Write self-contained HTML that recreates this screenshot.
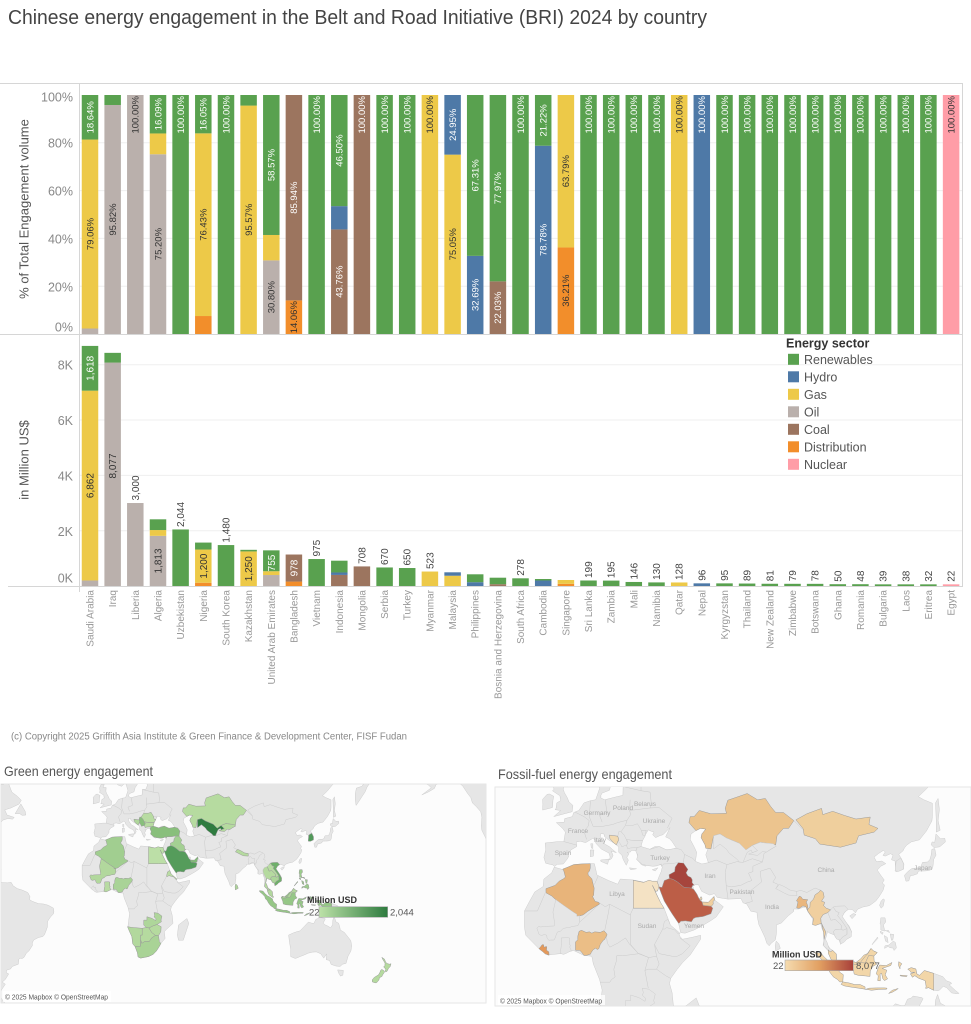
<!DOCTYPE html>
<html><head><meta charset="utf-8"><style>
html,body{margin:0;padding:0;background:#fff;width:971px;height:1024px;overflow:hidden}
svg{display:block;font-family:"Liberation Sans",sans-serif}
.R{fill:#59a14f}.H{fill:#4e79a7}.G{fill:#edc948}.O{fill:#bab0ac}.C{fill:#9c755f}.D{fill:#f28e2b}.N{fill:#ff9da7}
.p text{font-size:9.5px}
.w{fill:#fff}.k{fill:#333}.a{fill:#444}
.yl{font-size:12.5px;fill:#888;text-anchor:end}
.xl{font-size:10px;fill:#999;text-anchor:end}
.lg{font-size:12.5px;fill:#555}
.ml{font-size:6.5px;fill:#aaa;text-anchor:middle}
</style></head><body>
<svg width="971" height="1024" viewBox="0 0 971 1024" xmlns="http://www.w3.org/2000/svg" overflow="hidden">
<defs>
<clipPath id="cg"><rect x="1" y="784" width="485" height="219"/></clipPath>
<clipPath id="cf"><rect x="495" y="787" width="476" height="219"/></clipPath>
<linearGradient id="gg" x1="0" x2="1" y1="0" y2="0"><stop offset="0" stop-color="#bde2a8"/><stop offset="1" stop-color="#2e7b3f"/></linearGradient>
<linearGradient id="gf" x1="0" x2="1" y1="0" y2="0"><stop offset="0" stop-color="#f5dcb0"/><stop offset="0.5" stop-color="#e2a062"/><stop offset="1" stop-color="#a8403a"/></linearGradient>
</defs>
<rect width="971" height="1024" fill="#fff"/>
<text x="8" y="24" font-size="20" fill="#444" textLength="699" lengthAdjust="spacingAndGlyphs">Chinese energy engagement in the Belt and Road Initiative (BRI) 2024 by country</text>

<g stroke="#efefef" stroke-width="1">
<line x1="80" x2="962" y1="286.2" y2="286.2"/><line x1="80" x2="962" y1="238.4" y2="238.4"/><line x1="80" x2="962" y1="190.6" y2="190.6"/><line x1="80" x2="962" y1="142.8" y2="142.8"/>
<line x1="80" x2="962" y1="530.7" y2="530.7"/><line x1="80" x2="962" y1="475.4" y2="475.4"/><line x1="80" x2="962" y1="420" y2="420"/><line x1="80" x2="962" y1="364.7" y2="364.7"/>
</g>
<g stroke="#d6d6d6" stroke-width="1">
<line x1="0" x2="963" y1="83.5" y2="83.5"/>
<line x1="0" x2="963" y1="334.5" y2="334.5"/>
<line x1="8" x2="963" y1="586.5" y2="586.5"/>
<line x1="79.5" x2="79.5" y1="83" y2="592"/>
<line x1="962.5" x2="962.5" y1="83" y2="587"/>
</g>

<text class="yl" x="73" y="101.5">100%</text>
<text class="yl" x="73" y="147.5">80%</text>
<text class="yl" x="73" y="195.5">60%</text>
<text class="yl" x="73" y="243.5">40%</text>
<text class="yl" x="73" y="291.5">20%</text>
<text class="yl" x="73" y="331.5">0%</text>
<text class="yl" x="73" y="369.5">8K</text>
<text class="yl" x="73" y="425">6K</text>
<text class="yl" x="73" y="480.5">4K</text>
<text class="yl" x="73" y="536">2K</text>
<text class="yl" x="73" y="582.5">0K</text>
<text transform="translate(28.5,209) rotate(-90)" text-anchor="middle" font-size="13" fill="#555">% of Total Engagement volume</text>
<text transform="translate(28.5,460) rotate(-90)" text-anchor="middle" font-size="13" fill="#555">in Million US$</text>

<g transform="translate(0,334) scale(1,-2.39)">
<rect class="O" x="81.75" y="0" width="16.5" height="2.3"/><rect class="G" x="81.75" y="2.3" width="16.5" height="79.06"/><rect class="R" x="81.75" y="81.36" width="16.5" height="18.64"/>
<rect class="O" x="104.4" y="0" width="16.5" height="95.82"/><rect class="R" x="104.4" y="95.82" width="16.5" height="4.18"/>
<rect class="O" x="127.05" y="0" width="16.5" height="100"/>
<rect class="O" x="149.75" y="0" width="16.5" height="75.2"/><rect class="G" x="149.75" y="75.2" width="16.5" height="8.71"/><rect class="R" x="149.75" y="83.91" width="16.5" height="16.09"/>
<rect class="R" x="172.35" y="0" width="16.5" height="100"/>
<rect class="D" x="195.05" y="0" width="16.5" height="7.52"/><rect class="G" x="195.05" y="7.52" width="16.5" height="76.43"/><rect class="R" x="195.05" y="83.95" width="16.5" height="16.05"/>
<rect class="R" x="217.75" y="0" width="16.5" height="100"/>
<rect class="G" x="240.35" y="0" width="16.5" height="95.57"/><rect class="R" x="240.35" y="95.57" width="16.5" height="4.43"/>
<rect class="O" x="263.05" y="0" width="16.5" height="30.8"/><rect class="G" x="263.05" y="30.8" width="16.5" height="10.63"/><rect class="R" x="263.05" y="41.43" width="16.5" height="58.57"/>
<rect class="D" x="285.65" y="0" width="16.5" height="14.06"/><rect class="C" x="285.65" y="14.06" width="16.5" height="85.94"/>
<rect class="R" x="308.35" y="0" width="16.5" height="100"/>
<rect class="C" x="331.05" y="0" width="16.5" height="43.76"/><rect class="H" x="331.05" y="43.76" width="16.5" height="9.74"/><rect class="R" x="331.05" y="53.5" width="16.5" height="46.5"/>
<rect class="C" x="353.65" y="0" width="16.5" height="100"/>
<rect class="R" x="376.35" y="0" width="16.5" height="100"/>
<rect class="R" x="398.95" y="0" width="16.5" height="100"/>
<rect class="G" x="421.65" y="0" width="16.5" height="100"/>
<rect class="G" x="444.35" y="0" width="16.5" height="75.05"/><rect class="H" x="444.35" y="75.05" width="16.5" height="24.95"/>
<rect class="H" x="466.95" y="0" width="16.5" height="32.69"/><rect class="R" x="466.95" y="32.69" width="16.5" height="67.31"/>
<rect class="C" x="489.65" y="0" width="16.5" height="22.03"/><rect class="R" x="489.65" y="22.03" width="16.5" height="77.97"/>
<rect class="R" x="512.25" y="0" width="16.5" height="100"/>
<rect class="H" x="534.95" y="0" width="16.5" height="78.78"/><rect class="R" x="534.95" y="78.78" width="16.5" height="21.22"/>
<rect class="D" x="557.65" y="0" width="16.5" height="36.21"/><rect class="G" x="557.65" y="36.21" width="16.5" height="63.79"/>
<rect class="R" x="580.25" y="0" width="16.5" height="100"/>
<rect class="R" x="602.95" y="0" width="16.5" height="100"/>
<rect class="R" x="625.55" y="0" width="16.5" height="100"/>
<rect class="R" x="648.25" y="0" width="16.5" height="100"/>
<rect class="G" x="670.95" y="0" width="16.5" height="100"/>
<rect class="H" x="693.55" y="0" width="16.5" height="100"/>
<rect class="R" x="716.25" y="0" width="16.5" height="100"/>
<rect class="R" x="738.85" y="0" width="16.5" height="100"/>
<rect class="R" x="761.55" y="0" width="16.5" height="100"/>
<rect class="R" x="784.25" y="0" width="16.5" height="100"/>
<rect class="R" x="806.85" y="0" width="16.5" height="100"/>
<rect class="R" x="829.55" y="0" width="16.5" height="100"/>
<rect class="R" x="852.15" y="0" width="16.5" height="100"/>
<rect class="R" x="874.85" y="0" width="16.5" height="100"/>
<rect class="R" x="897.55" y="0" width="16.5" height="100"/>
<rect class="R" x="920.15" y="0" width="16.5" height="100"/>
<rect class="N" x="942.85" y="0" width="16.5" height="100"/>
</g>

<g class="p" text-anchor="middle">
<text class="w" transform="translate(90,117.3) rotate(-90)" dy=".35em">18.64%</text>
<text class="k" transform="translate(90,234) rotate(-90)" dy=".35em">79.06%</text>
<text class="k" transform="translate(112.7,219.5) rotate(-90)" dy=".35em">95.82%</text>
<text class="w" transform="translate(158,114.2) rotate(-90)" dy=".35em">16.09%</text>
<text class="k" transform="translate(158,244.1) rotate(-90)" dy=".35em">75.20%</text>
<text class="w" transform="translate(203.3,114.2) rotate(-90)" dy=".35em">16.05%</text>
<text class="k" transform="translate(203.3,224.7) rotate(-90)" dy=".35em">76.43%</text>
<text class="k" transform="translate(248.6,219.8) rotate(-90)" dy=".35em">95.57%</text>
<text class="w" transform="translate(271.3,165) rotate(-90)" dy=".35em">58.57%</text>
<text class="k" transform="translate(271.3,297.2) rotate(-90)" dy=".35em">30.80%</text>
<text class="w" transform="translate(293.9,197.7) rotate(-90)" dy=".35em">85.94%</text>
<text class="k" transform="translate(293.9,317.2) rotate(-90)" dy=".35em">14.06%</text>
<text class="w" transform="translate(339.3,150.6) rotate(-90)" dy=".35em">46.50%</text>
<text class="w" transform="translate(339.3,281.7) rotate(-90)" dy=".35em">43.76%</text>
<text class="w" transform="translate(452.6,124.8) rotate(-90)" dy=".35em">24.95%</text>
<text class="k" transform="translate(452.6,244.3) rotate(-90)" dy=".35em">75.05%</text>
<text class="w" transform="translate(475.2,175.4) rotate(-90)" dy=".35em">67.31%</text>
<text class="w" transform="translate(475.2,294.9) rotate(-90)" dy=".35em">32.69%</text>
<text class="w" transform="translate(497.9,188.2) rotate(-90)" dy=".35em">77.97%</text>
<text class="w" transform="translate(497.9,307.7) rotate(-90)" dy=".35em">22.03%</text>
<text class="w" transform="translate(543.2,120.4) rotate(-90)" dy=".35em">21.22%</text>
<text class="w" transform="translate(543.2,239.9) rotate(-90)" dy=".35em">78.78%</text>
<text class="k" transform="translate(565.9,171.2) rotate(-90)" dy=".35em">63.79%</text>
<text class="k" transform="translate(565.9,290.7) rotate(-90)" dy=".35em">36.21%</text>
</g>
<g class="p" text-anchor="end">
<text class="k" transform="translate(135.3,96) rotate(-90)" dy=".35em">100.00%</text>
<text class="w" transform="translate(180.6,96) rotate(-90)" dy=".35em">100.00%</text>
<text class="w" transform="translate(226,96) rotate(-90)" dy=".35em">100.00%</text>
<text class="w" transform="translate(316.6,96) rotate(-90)" dy=".35em">100.00%</text>
<text class="w" transform="translate(361.9,96) rotate(-90)" dy=".35em">100.00%</text>
<text class="w" transform="translate(384.6,96) rotate(-90)" dy=".35em">100.00%</text>
<text class="w" transform="translate(407.2,96) rotate(-90)" dy=".35em">100.00%</text>
<text class="k" transform="translate(429.9,96) rotate(-90)" dy=".35em">100.00%</text>
<text class="w" transform="translate(520.5,96) rotate(-90)" dy=".35em">100.00%</text>
<text class="w" transform="translate(588.5,96) rotate(-90)" dy=".35em">100.00%</text>
<text class="w" transform="translate(611.2,96) rotate(-90)" dy=".35em">100.00%</text>
<text class="w" transform="translate(633.8,96) rotate(-90)" dy=".35em">100.00%</text>
<text class="w" transform="translate(656.5,96) rotate(-90)" dy=".35em">100.00%</text>
<text class="k" transform="translate(679.2,96) rotate(-90)" dy=".35em">100.00%</text>
<text class="w" transform="translate(701.8,96) rotate(-90)" dy=".35em">100.00%</text>
<text class="w" transform="translate(724.5,96) rotate(-90)" dy=".35em">100.00%</text>
<text class="w" transform="translate(747.1,96) rotate(-90)" dy=".35em">100.00%</text>
<text class="w" transform="translate(769.8,96) rotate(-90)" dy=".35em">100.00%</text>
<text class="w" transform="translate(792.5,96) rotate(-90)" dy=".35em">100.00%</text>
<text class="w" transform="translate(815.1,96) rotate(-90)" dy=".35em">100.00%</text>
<text class="w" transform="translate(837.8,96) rotate(-90)" dy=".35em">100.00%</text>
<text class="w" transform="translate(860.4,96) rotate(-90)" dy=".35em">100.00%</text>
<text class="w" transform="translate(883.1,96) rotate(-90)" dy=".35em">100.00%</text>
<text class="w" transform="translate(905.8,96) rotate(-90)" dy=".35em">100.00%</text>
<text class="w" transform="translate(928.4,96) rotate(-90)" dy=".35em">100.00%</text>
<text class="k" transform="translate(951.1,96) rotate(-90)" dy=".35em">100.00%</text>
</g>

<g transform="translate(0,586) scale(1,-0.02766)">
<rect class="O" x="81.75" y="0" width="16.5" height="200"/><rect class="G" x="81.75" y="200" width="16.5" height="6862"/><rect class="R" x="81.75" y="7062" width="16.5" height="1618"/>
<rect class="O" x="104.4" y="0" width="16.5" height="8077"/><rect class="R" x="104.4" y="8077" width="16.5" height="352"/>
<rect class="O" x="127.05" y="0" width="16.5" height="3000"/>
<rect class="O" x="149.75" y="0" width="16.5" height="1813"/><rect class="G" x="149.75" y="1813" width="16.5" height="210"/><rect class="R" x="149.75" y="2023" width="16.5" height="388"/>
<rect class="R" x="172.35" y="0" width="16.5" height="2044"/>
<rect class="D" x="195.05" y="0" width="16.5" height="118"/><rect class="G" x="195.05" y="118" width="16.5" height="1200"/><rect class="R" x="195.05" y="1318" width="16.5" height="252"/>
<rect class="R" x="217.75" y="0" width="16.5" height="1480"/>
<rect class="G" x="240.35" y="0" width="16.5" height="1250"/><rect class="R" x="240.35" y="1250" width="16.5" height="58"/>
<rect class="O" x="263.05" y="0" width="16.5" height="397"/><rect class="G" x="263.05" y="397" width="16.5" height="137"/><rect class="R" x="263.05" y="534" width="16.5" height="755"/>
<rect class="D" x="285.65" y="0" width="16.5" height="160"/><rect class="C" x="285.65" y="160" width="16.5" height="978"/>
<rect class="R" x="308.35" y="0" width="16.5" height="975"/>
<rect class="C" x="331.05" y="0" width="16.5" height="400"/><rect class="H" x="331.05" y="400" width="16.5" height="89"/><rect class="R" x="331.05" y="489" width="16.5" height="426"/>
<rect class="C" x="353.65" y="0" width="16.5" height="708"/>
<rect class="R" x="376.35" y="0" width="16.5" height="670"/>
<rect class="R" x="398.95" y="0" width="16.5" height="650"/>
<rect class="G" x="421.65" y="0" width="16.5" height="523"/>
<rect class="G" x="444.35" y="0" width="16.5" height="371"/><rect class="H" x="444.35" y="371" width="16.5" height="124"/>
<rect class="H" x="466.95" y="0" width="16.5" height="138"/><rect class="R" x="466.95" y="138" width="16.5" height="285"/>
<rect class="C" x="489.65" y="0" width="16.5" height="66"/><rect class="R" x="489.65" y="66" width="16.5" height="234"/>
<rect class="R" x="512.25" y="0" width="16.5" height="278"/>
<rect class="H" x="534.95" y="0" width="16.5" height="199"/><rect class="R" x="534.95" y="199" width="16.5" height="54"/>
<rect class="D" x="557.65" y="0" width="16.5" height="79"/><rect class="G" x="557.65" y="79" width="16.5" height="138"/>
<rect class="R" x="580.25" y="0" width="16.5" height="199"/>
<rect class="R" x="602.95" y="0" width="16.5" height="195"/>
<rect class="R" x="625.55" y="0" width="16.5" height="146"/>
<rect class="R" x="648.25" y="0" width="16.5" height="130"/>
<rect class="G" x="670.95" y="0" width="16.5" height="128"/>
<rect class="H" x="693.55" y="0" width="16.5" height="96"/>
<rect class="R" x="716.25" y="0" width="16.5" height="95"/>
<rect class="R" x="738.85" y="0" width="16.5" height="89"/>
<rect class="R" x="761.55" y="0" width="16.5" height="81"/>
<rect class="R" x="784.25" y="0" width="16.5" height="79"/>
<rect class="R" x="806.85" y="0" width="16.5" height="78"/>
<rect class="R" x="829.55" y="0" width="16.5" height="65"/>
<rect class="R" x="852.15" y="0" width="16.5" height="65"/>
<rect class="R" x="874.85" y="0" width="16.5" height="60"/>
<rect class="R" x="897.55" y="0" width="16.5" height="60"/>
<rect class="R" x="920.15" y="0" width="16.5" height="60"/>
<rect class="N" x="942.85" y="0" width="16.5" height="60"/>
</g>

<g style="font-size:10px" text-anchor="middle">
<text class="w" transform="translate(90,368.3) rotate(-90)" dy=".35em">1,618</text>
<text class="k" transform="translate(90,485.6) rotate(-90)" dy=".35em">6,862</text>
<text class="k" transform="translate(112.7,466) rotate(-90)" dy=".35em">8,077</text>
<text class="k" transform="translate(158,561) rotate(-90)" dy=".35em">1,813</text>
<text class="k" transform="translate(203.3,566.1) rotate(-90)" dy=".35em">1,200</text>
<text class="k" transform="translate(248.6,568.7) rotate(-90)" dy=".35em">1,250</text>
<text class="w" transform="translate(271.3,563) rotate(-90)" dy=".35em">755</text>
<text class="w" transform="translate(293.9,568) rotate(-90)" dy=".35em">978</text>
</g>
<g style="font-size:10px" text-anchor="start" class="a">
<text transform="translate(135.3,500.5) rotate(-90)" dy=".35em">3,000</text>
<text transform="translate(180.6,527) rotate(-90)" dy=".35em">2,044</text>
<text transform="translate(226,542.6) rotate(-90)" dy=".35em">1,480</text>
<text transform="translate(316.6,556.5) rotate(-90)" dy=".35em">975</text>
<text transform="translate(361.9,563.9) rotate(-90)" dy=".35em">708</text>
<text transform="translate(384.6,565) rotate(-90)" dy=".35em">670</text>
<text transform="translate(407.2,565.5) rotate(-90)" dy=".35em">650</text>
<text transform="translate(429.9,569) rotate(-90)" dy=".35em">523</text>
<text transform="translate(520.5,575.8) rotate(-90)" dy=".35em">278</text>
<text transform="translate(588.5,578) rotate(-90)" dy=".35em">199</text>
<text transform="translate(611.2,578.1) rotate(-90)" dy=".35em">195</text>
<text transform="translate(633.8,579.5) rotate(-90)" dy=".35em">146</text>
<text transform="translate(656.5,579.9) rotate(-90)" dy=".35em">130</text>
<text transform="translate(679.2,580) rotate(-90)" dy=".35em">128</text>
<text transform="translate(701.8,580.8) rotate(-90)" dy=".35em">96</text>
<text transform="translate(724.5,580.9) rotate(-90)" dy=".35em">95</text>
<text transform="translate(747.1,581) rotate(-90)" dy=".35em">89</text>
<text transform="translate(769.8,581.3) rotate(-90)" dy=".35em">81</text>
<text transform="translate(792.5,581.3) rotate(-90)" dy=".35em">79</text>
<text transform="translate(815.1,581.3) rotate(-90)" dy=".35em">78</text>
<text transform="translate(837.8,581.7) rotate(-90)" dy=".35em">50</text>
<text transform="translate(860.4,581.7) rotate(-90)" dy=".35em">48</text>
<text transform="translate(883.1,581.8) rotate(-90)" dy=".35em">39</text>
<text transform="translate(905.8,581.8) rotate(-90)" dy=".35em">38</text>
<text transform="translate(928.4,581.8) rotate(-90)" dy=".35em">32</text>
<text transform="translate(951.1,581.8) rotate(-90)" dy=".35em">22</text>
</g>

<g class="xl">
<text transform="translate(90,590) rotate(-90)" dy=".35em">Saudi Arabia</text>
<text transform="translate(112.7,590) rotate(-90)" dy=".35em">Iraq</text>
<text transform="translate(135.3,590) rotate(-90)" dy=".35em">Liberia</text>
<text transform="translate(158,590) rotate(-90)" dy=".35em">Algeria</text>
<text transform="translate(180.6,590) rotate(-90)" dy=".35em">Uzbekistan</text>
<text transform="translate(203.3,590) rotate(-90)" dy=".35em">Nigeria</text>
<text transform="translate(226,590) rotate(-90)" dy=".35em">South Korea</text>
<text transform="translate(248.6,590) rotate(-90)" dy=".35em">Kazakhstan</text>
<text transform="translate(271.3,590) rotate(-90)" dy=".35em">United Arab Emirates</text>
<text transform="translate(293.9,590) rotate(-90)" dy=".35em">Bangladesh</text>
<text transform="translate(316.6,590) rotate(-90)" dy=".35em">Vietnam</text>
<text transform="translate(339.3,590) rotate(-90)" dy=".35em">Indonesia</text>
<text transform="translate(361.9,590) rotate(-90)" dy=".35em">Mongolia</text>
<text transform="translate(384.6,590) rotate(-90)" dy=".35em">Serbia</text>
<text transform="translate(407.2,590) rotate(-90)" dy=".35em">Turkey</text>
<text transform="translate(429.9,590) rotate(-90)" dy=".35em">Myanmar</text>
<text transform="translate(452.6,590) rotate(-90)" dy=".35em">Malaysia</text>
<text transform="translate(475.2,590) rotate(-90)" dy=".35em">Philippines</text>
<text transform="translate(497.9,590) rotate(-90)" dy=".35em">Bosnia and Herzegovina</text>
<text transform="translate(520.5,590) rotate(-90)" dy=".35em">South Africa</text>
<text transform="translate(543.2,590) rotate(-90)" dy=".35em">Cambodia</text>
<text transform="translate(565.9,590) rotate(-90)" dy=".35em">Singapore</text>
<text transform="translate(588.5,590) rotate(-90)" dy=".35em">Sri Lanka</text>
<text transform="translate(611.2,590) rotate(-90)" dy=".35em">Zambia</text>
<text transform="translate(633.8,590) rotate(-90)" dy=".35em">Mali</text>
<text transform="translate(656.5,590) rotate(-90)" dy=".35em">Namibia</text>
<text transform="translate(679.2,590) rotate(-90)" dy=".35em">Qatar</text>
<text transform="translate(701.8,590) rotate(-90)" dy=".35em">Nepal</text>
<text transform="translate(724.5,590) rotate(-90)" dy=".35em">Kyrgyzstan</text>
<text transform="translate(747.1,590) rotate(-90)" dy=".35em">Thailand</text>
<text transform="translate(769.8,590) rotate(-90)" dy=".35em">New Zealand</text>
<text transform="translate(792.5,590) rotate(-90)" dy=".35em">Zimbabwe</text>
<text transform="translate(815.1,590) rotate(-90)" dy=".35em">Botswana</text>
<text transform="translate(837.8,590) rotate(-90)" dy=".35em">Ghana</text>
<text transform="translate(860.4,590) rotate(-90)" dy=".35em">Romania</text>
<text transform="translate(883.1,590) rotate(-90)" dy=".35em">Bulgaria</text>
<text transform="translate(905.8,590) rotate(-90)" dy=".35em">Laos</text>
<text transform="translate(928.4,590) rotate(-90)" dy=".35em">Eritrea</text>
<text transform="translate(951.1,590) rotate(-90)" dy=".35em">Egypt</text>
</g>

<text x="786" y="347.5" font-size="12.5" font-weight="bold" fill="#333">Energy sector</text>
<rect class="R" x="788" y="353.8" width="11" height="11"/><text class="lg" x="804" y="363.8">Renewables</text>
<rect class="H" x="788" y="371.3" width="11" height="11"/><text class="lg" x="804" y="381.3">Hydro</text>
<rect class="G" x="788" y="388.8" width="11" height="11"/><text class="lg" x="804" y="398.8">Gas</text>
<rect class="O" x="788" y="406.3" width="11" height="11"/><text class="lg" x="804" y="416.3">Oil</text>
<rect class="C" x="788" y="423.8" width="11" height="11"/><text class="lg" x="804" y="433.8">Coal</text>
<rect class="D" x="788" y="441.3" width="11" height="11"/><text class="lg" x="804" y="451.3">Distribution</text>
<rect class="N" x="788" y="458.8" width="11" height="11"/><text class="lg" x="804" y="468.8">Nuclear</text>

<text x="11" y="739.5" font-size="10" fill="#888" textLength="396" lengthAdjust="spacingAndGlyphs">(c) Copyright 2025 Griffith Asia Institute &amp; Green Finance &amp; Development Center, FISF Fudan</text>

<text x="4" y="776" font-size="14" fill="#555" textLength="149" lengthAdjust="spacingAndGlyphs">Green energy engagement</text>
<text x="498" y="779" font-size="14" fill="#555" textLength="174" lengthAdjust="spacingAndGlyphs">Fossil-fuel energy engagement</text>

<rect x="1" y="784" width="485" height="219" fill="#fcfcfc" stroke="#e6e6e6"/>
<rect x="495" y="787" width="476" height="219" fill="#fcfcfc" stroke="#e6e6e6"/>
<g clip-path="url(#cg)"><g id="mg" transform="translate(109,899.4) scale(1.58)"></g></g>
<g clip-path="url(#cf)"><g id="mf" transform="translate(568.5,966.6) scale(2.59)"></g></g>

<g class="ml">
<text x="563" y="855">Spain</text><text x="578" y="833">France</text><text x="597" y="815">Germany</text>
<text x="623" y="810">Poland</text><text x="645" y="806">Belarus</text><text x="654" y="823">Ukraine</text>
<text x="600" y="842">Italy</text><text x="660" y="860">Turkey</text><text x="710" y="878">Iran</text>
<text x="617" y="896">Libya</text><text x="647" y="928">Sudan</text><text x="694" y="928">Yemen</text>
<text x="742" y="894">Pakistan</text><text x="772" y="909">India</text><text x="826" y="872">China</text>
<text x="923" y="870">Japan</text>
</g>

<text x="307" y="903" font-size="9" font-weight="bold" fill="#333">Million USD</text>
<text x="309" y="915.5" font-size="9.5" fill="#555">22</text>
<rect x="319" y="906.7" width="68.7" height="10.6" fill="url(#gg)" stroke="#aaa" stroke-width="0.6"/>
<text x="390" y="915.5" font-size="9.5" fill="#555">2,044</text>
<text x="772" y="957.5" font-size="9" font-weight="bold" fill="#333">Million USD</text>
<text x="773" y="969" font-size="9.5" fill="#555">22</text>
<rect x="785" y="960" width="68.3" height="10.7" fill="url(#gf)" stroke="#aaa" stroke-width="0.6"/>
<text x="856" y="969" font-size="9.5" fill="#555">8,077</text>

<rect x="3" y="991" width="108" height="11" fill="#fff" opacity="0.8"/>
<text x="5" y="999.5" font-size="7.5" fill="#555" textLength="103" lengthAdjust="spacingAndGlyphs">© 2025 Mapbox © OpenStreetMap</text>
<rect x="498" y="995" width="107" height="10" fill="#fff" opacity="0.8"/>
<text x="500" y="1003.5" font-size="7.5" fill="#555" textLength="102" lengthAdjust="spacingAndGlyphs">© 2025 Mapbox © OpenStreetMap</text>
</svg>

<script>
(function(){
var NS='http://www.w3.org/2000/svg';
function M(l){return Math.log(Math.tan(Math.PI/4+l*Math.PI/360))*180/Math.PI;}
var B;
function cl(v,a,b){return v<a?a:(v>b?b:v);}
function P(a,s,open){s=s||0;var d='';for(var i=0;i<a.length;i+=2){var lo=cl(a[i]+s,B[0],B[1]),la=cl(a[i+1],B[2],B[3]);d+=(i?'L':'M')+lo.toFixed(2)+','+(-M(la)).toFixed(2);}return open?d:d+'Z';}
var LAND='#e6e6e6',SEA='#fcfcfc';
var F=[
{c:[-17,21,-17,15,-16.5,12,-13,8.5,-11,6.5,-8,4.5,-3,5,2,6.2,6,4.3,9,4,9.6,1,12,-5,13,-9,12,-17,14.5,-23,15,-27,16.5,-28.6,18,-32,18.4,-34.2,20,-34.8,25,-34,28,-32.8,30,-31,31.5,-29,32.9,-26.8,35.5,-24,35,-20,36.5,-18.5,40.5,-15,40,-10,39,-6.5,39.5,-4.5,42,-1,44,1.5,47,4.5,49,7.5,51,10.5,51,12,48,11.3,44,10.5,43,11.6,42.5,13,41,14.5,39.5,15.5,38.5,18,37.3,21,36.9,22,35.7,23.5,34,27,32.5,30,32.3,31.3,30,31,29,31,25,31.7,20,32,19,30.3,15.5,31.5,11,33.3,10,36.9,8.5,36.9,5,36.8,2,36.6,-1,35.5,-2,35,-5.5,35.8,-6.5,34,-9.5,32,-9.8,29.5,-13,27.7,-15,24.5]},
{c:[44,-25,47,-25,50.5,-15,49.3,-12,44,-16,43.3,-22]},
{c:[32.5,30,34.9,29.5,35.7,27.5,37,24.5,39,21.5,40,20,42.5,16.5,43.3,13,45,12.8,48.5,14,52,15.8,55,17.5,57,18.8,59.8,22.5,58,23.8,56.4,24.9,56.3,26.3,55.5,25.5,54,24.1,52,24,51.4,24.5,51.5,25.8,50.8,24.8,50.1,25.9,49.6,26.9,48.4,28.5,47.9,29.9,48.7,30.1,50.2,30.1,51.4,27.9,54.5,26.6,56.3,27.1,57.4,25.8,61.6,25.2,66.6,25.4,67.4,23.9,68.8,23.5,70.4,20.9,72.8,20.5,72.9,18.9,73.5,16,74.5,14,75.8,11.3,76.6,8.9,77.5,8,78.2,8.9,79.9,10.3,80.3,13,80.3,15.9,82.2,16.6,84.8,19.2,86.9,20.8,87,21.7,88.9,21.7,90.6,22.3,91.8,22.4,92.4,20.7,93.3,19.5,94.3,18,94.3,16.1,95.4,15.8,97.2,16.9,97.7,15,98.5,13.1,98.6,10,98.3,8.2,99.2,7.2,100.3,6,100.4,4.9,101.4,2.8,103.5,1.3,104.2,1.4,103.5,2.8,103.4,4.9,102.1,6.2,101,6.9,100.3,8,99.2,9.2,99.2,10.7,99.6,12.2,100,13.4,100.9,13.4,101.7,12.6,102.6,12.2,103.1,11.2,104.3,10.5,105.1,8.6,106.7,10.4,108.9,11.3,109.3,13.4,108.4,15.4,106.6,17.5,105.6,18.9,106.4,20.2,107.8,21.6,109.6,21.5,110.8,20.3,111.6,21.6,113.6,22.4,116.2,22.9,118.6,24.5,119.9,26,121.5,28.3,122,30,121.2,30.7,121.9,31.7,120.5,33.3,119.2,34.9,120.6,36.1,122.5,36.9,121,37.7,118.9,37.5,118,38.9,119.6,39.9,121.6,40.9,122.3,40.4,121.4,39.4,122.3,39.2,124.3,39.9,125.3,39.5,124.7,38.1,126.1,37.7,126.2,36.4,126.4,34.4,127.4,34.5,129.4,35.2,129.5,36.8,128.4,38.6,127.5,39.7,129.1,40.7,129.7,41.6,130.6,42.4,132.3,43.3,135.5,43.9,138.2,46.3,140.3,48.9,140.5,50.1,140.5,53.2,137.2,54,135.1,54.7,138.2,56.4,142.2,59,145.5,59.3,148.5,59.2,152.8,58.9,155,59.1,156.8,61.4,159.3,61.8,160.1,60.5,163.7,61.1,164.5,62.6,163.3,62.5,162.4,61.6,163,60,160,58,156.6,57.4,155.9,55.5,155.9,53,156.4,51,158.5,52.9,160,54.3,162.1,56.1,163.2,57.6,166,59.9,170.3,60,172.2,61,177.4,62.5,179.2,62.3,180,65,180,72,140,73,130,71.5,115,73.5,105,77.5,95,76,80,73.5,70,73,68,68.5,60,69,53,68,44,68.5,40,66,33,66.5,37,67,40,67.7,32,69.5,25,71,15,69,10,64,5,62,5.5,58.5,8,58,10.5,59.3,12,56.5,10.5,54,8.5,53.8,6,53.3,4,51.5,2,51,1.5,50,-1.5,49.5,-1.6,48.6,-4.7,48.5,-2.3,47,-1.2,46,-1.8,43.4,-4,43.4,-9,43,-8.8,41,-9.5,38.8,-8.8,37,-6,36.5,-5.4,36,-4.4,36.7,-2,36.8,-0.5,38.3,0.2,39.3,-0.3,39.5,0.9,41,3.2,42,3,43.3,4.6,43.5,6.6,43.1,9.4,44.3,10.2,43.9,10.6,42.9,12.6,41.3,15.6,40.1,16.1,38.9,15.7,38,16.6,38.4,17.2,39.4,16.5,40.7,18.5,40.2,16.9,41.2,15.9,41.9,14,42.7,12.3,44.6,12.4,45.6,13.7,45.5,13.9,44.8,15.4,43.9,17.5,43,19.4,41.9,19.4,40.3,20.6,39.5,21.1,38.2,22.3,36.4,22.8,37.3,23.1,38,22.5,38.8,23.4,39.9,22.6,40.3,23.9,40.4,24.3,40.9,26,40.8,26.5,41.7,28.1,41.6,29,41.2,27.6,40.4,26.3,40.2,26.8,38.9,26.3,38.2,27.3,37.4,28.1,36.6,29.7,36.1,30.6,36.7,32.5,36.1,34,36.3,35.6,36.6,36.2,35.8,35.8,34.4,35.1,33.1,34.6,32,34.3,31.2,32.5,31.1]},
{c:[27.6,42.5,28,43.5,28.7,44.3,29.7,45.3,30.8,46.6,31.7,46.3,33,46,32.5,45.3,33.6,44.5,35.5,45.1,36.5,45.3,38.2,46.5,39.2,47.2,37.5,44.7,39,44.2,40,43.4,41.6,41.6,39.5,41.1,37.5,41.1,35.2,42,33.4,42,31.1,41.1,29.1,41.2],s:1},
{c:[47,44,47.3,45.5,49.2,46.4,51,47,53,46.8,51.5,45.5,51.2,44.5,52.7,42.5,54,41.6,53,39.6,54,37.2,51.5,36.8,49,37.6,49.5,40.3,48.6,41.8],s:1},
{c:[12.5,54.4,14,54,18,54.6,21,55,21.1,56.9,23.3,57,24.4,58.4,23.5,59.2,28,59.7,29.5,60,25,60.2,22.5,60,21.2,61.5,21.6,63.5,25,65,25.4,65.9,22,65.7,19,63.5,17.5,62,17.3,60.6,18.8,59.4,16.5,57.5,15.8,56.1,13,55.5,12.5,55],s:1},
{c:[12.4,38,15.6,38.3,15.1,36.7,12.5,37.6]},
{c:[8.4,41,9.8,41,9.6,39.2,8.4,39]},
{c:[8.6,42.8,9.4,42.8,9.4,41.4,8.8,41.6]},
{c:[23.5,35.6,26.3,35.3,24,35]},
{c:[32.3,35,34.5,35.6,33.5,34.6]},
{c:[-5.7,50,1.4,51.2,1.7,52.7,0.2,53.5,-0.5,54.5,-1.6,55.6,-2,56.3,-1.8,57.6,-3.8,57.6,-3,58.6,-5,58.6,-6,57.5,-5.6,56.3,-6.2,56,-4.9,55.5,-3.3,54.9,-3,53.8,-4.5,53.3,-4.8,52,-5.2,51.7,-3,51.5]},
{c:[-10,51.6,-6.2,52.2,-6,53.9,-5.7,54.8,-7.4,55.3,-8.3,55.2,-10,54.1,-9.9,53]},
{c:[129.7,33.2,130.3,31.3,131.4,31.4,132,33.1,133,33.2,134.7,33.7,135.1,34.6,136.9,34.6,137.3,34.6,138.9,34.7,140.3,35.1,140.7,36,141,38.2,141.9,39.5,141.4,41.4,140.3,41.2,140,39.4,139.5,38.1,138.6,37.4,136.7,37.3,136,35.9,135.4,35.6,132.6,35.4,131,34.4]},
{c:[140,42.5,140.4,43.3,141.4,43.2,141.9,45.5,143.6,44.2,145.3,44.3,145.5,43.3,143.3,41.9,141.1,41.7]},
{c:[142,46,143.5,46.5,142.7,49,143.2,51.7,142.7,54.3,141.7,53.3,142,49]},
{c:[120.1,23,120.7,22,121.5,22.7,122,25,121.5,25.3,120.7,24.5]},
{c:[108.6,19.2,110,20.1,111,19.7,109.5,18.2]},
{c:[113.7,-22,114.2,-26,115,-30,115,-34,118,-35,121.5,-33.8,124,-33,126,-32.2,129,-31.6,131.3,-31.5,134,-32.5,135.9,-34.8,137.8,-32.6,137.5,-35.6,139.6,-36,140.6,-38,143.6,-38.8,146.3,-39,147.8,-37.9,150,-37.5,151.3,-33.8,153.1,-31,153.6,-28.1,153,-25.2,150.8,-22.6,149,-20.5,146.4,-19,146,-17,145.3,-14.9,143.6,-14,142.5,-10.7,141.7,-12.9,141.5,-15.9,140.2,-17.7,139,-16.9,136.8,-15.9,135.5,-14.9,136.9,-12.3,136.5,-11.9,133,-11.3,132.4,-12,130.9,-12.5,129.8,-14.9,128.4,-14.9,126.2,-14.2,125,-15.4,123.4,-17.1,122.2,-18.2,121,-19.5,119,-20,117,-20.6]},
{c:[144.7,-40.7,148.3,-40.9,148,-43.2,146.5,-43.6,145.3,-42.1]},
{c:[131,-1,132.3,-0.4,134.1,-0.9,134.5,-2.8,135.5,-3.4,137.4,-1.5,141,-2.6,144.6,-3.9,145.8,-5.4,147.6,-6.1,147.9,-6.6,146.9,-6.9,148.1,-8,149.3,-9.1,150.8,-10.3,149.7,-10.4,147.9,-10.1,146,-8.1,144.7,-7.6,143.3,-9,142.6,-9.3,141,-9.1,139,-8.1,137.9,-8.4,138.1,-7.6,137.7,-5.4,135.2,-4.5,133.7,-3.5,132.8,-4.1,132,-2.8,133.7,-2.2,132.2,-2.2,131.8,-1.6]},
{c:[-77.9,7.2,-76.8,8.6,-75.7,9.4,-74.9,11.1,-72.2,11.9,-71.4,10.9,-70,12.2,-68.2,10.6,-64.3,10.4,-61.9,10.7,-60.7,8.6,-58,6.8,-55,5.9,-52,4.6,-51.3,4.2,-50,1.7,-50.4,-0.1,-48.6,-1.2,-44.6,-2.7,-41.5,-2.9,-38.5,-3.7,-35.2,-5.5,-34.9,-7.6,-35.1,-9,-37,-11,-38.9,-13.8,-39,-17.2,-39.9,-19.6,-40.9,-21.9,-42,-22.9,-44.6,-23.4,-47.7,-24.9,-48.6,-26.6,-48.5,-28,-50.7,-31,-52.3,-32.2,-53.8,-34.4,-54.9,-35,-56.2,-34.9,-57.1,-35.4,-57.4,-37.9,-61.2,-39,-62.3,-40.2,-64.7,-40.8,-65.1,-42,-63.5,-42.6,-65.6,-45.1,-67.6,-46.3,-65.6,-47.2,-68.8,-50.3,-69,-51.6,-68.6,-52.3,-71.9,-52.5,-74,-50,-74,-46,-73.5,-43,-73.7,-37,-71.4,-32.4,-71.5,-28.9,-70.4,-23.6,-70.2,-18.3,-71.4,-17.4,-76,-14.6,-79.8,-7.2,-81.3,-4.7,-80.3,-3.4,-80.9,-1,-80,1,-78.9,1.4,-77.1,3.8,-77.5,6.7]},
{c:[-68.6,-52.6,-65.5,-55,-70,-55,-74,-53]},
{c:[-168,66,-165,64.6,-161,64,-164,63,-166,61.5,-165,60.5,-162,59.8,-158,58.5,-156,57.5,-162,55,-158,56,-154,57.3,-153,58.6,-150,59.4,-146,60.8,-142,60,-138,59,-136,58,-133,55.5,-131,54,-130,52,-127.5,50.5,-124.7,48.4,-124,46,-124.3,42,-124,40,-122.4,37.5,-120.6,34.6,-117.2,32.7,-114,28,-110,23,-105,19,-95,16,-92,14.5,-87,13,-84,9.5,-80,7.5,-77.5,8.5,-80,9.5,-83.5,11,-84,15.5,-88,16,-87.3,21.3,-90.5,21,-91,19,-94.5,18.2,-97,20,-97.5,25,-95,29,-90,29.2,-84,30,-82.6,27.5,-80.1,25.5,-80.5,28.5,-81.4,30.7,-78,34,-76,35.5,-76,38,-74,40.5,-70,41.5,-70.8,42.9,-67,44.8,-64,45.5,-61,45.2,-60,46,-64.5,47,-66,49.2,-62,50,-57,51.5,-55.5,53,-58,54.5,-61.5,56,-64.5,60.2,-67,58.5,-70,59,-72,61,-78,62.5,-77,60,-76.6,57,-79,54,-82,52.6,-85,55.3,-90,57,-93,59,-94.5,61,-90,64,-87,66,-82,67,-75,69,-70,67,-62,66,-65,70,-80,74,-100,75,-130,71,-141,69.6,-156,71.3,-166,68.8],w:1},
{c:[-44,60,-48,61,-51,64,-53,66,-54,69,-51,70.5,-56,74,-66,76,-73,78.5,-60,82,-30,83,-18,81,-20,76,-22,72,-24,70.5,-32,68,-36,65.5,-41,63]},
{c:[-59.4,47.6,-55.8,51.6,-53,48.5,-52.7,47,-55,46.9,-56.5,47.6]},
{c:[-84.9,21.9,-82,22.6,-79,22.4,-75.7,21,-74.2,20.3,-77.7,19.9,-78.5,21.3,-81,21.8,-83,22]},
{c:[-74.4,19.9,-72.6,19.9,-70,19.7,-68.3,18.6,-70,18.2,-71.7,17.8,-74.4,18.3]},
{b:1,c:[68.2,23.7,71,24.4,70,27.9,74.5,31,74,34.5,77.8,35.5,80,32.5,78.9,31,81,30.2,80,28.8]},
{b:1,c:[88.1,27.9,89.8,28.2,92,27.5,95.2,29,97.3,28.3]},
{b:1,c:[61.2,36.6,65,37.5,67.4,37.3,71,38.4,74.9,37.4,71.2,36.1,71.2,34.4,69.5,33.9,70.8,31.5,69,31,66.5,29.9,62.8,29.4,60.9,29.8]},
{b:1,c:[44.3,37.2,44.8,39.7,48,38.5,49,37.6]},
{b:1,c:[54,37.2,57,38,61.2,36.6,60.5,34.2,60.9,29.8,61.6,25.2]},
{b:1,c:[74.9,37.4,75.5,40,80.2,42.1]},
{b:1,c:[87,49,90,47,95.3,44.2]},
{b:1,c:[11.6,24.1,14.2,22.5,15.9,23.4,24,19.5,24,20,25,22]},
{b:1,c:[10,30.2,11.5,33.1]},
{b:1,c:[15.9,23.4,15.5,20.8,13.9,13.4,14.5,12.9]},
{b:1,c:[24,19.5,24,8.5,27,5,31,3.5,34,4,33.2,8.5,36.4,14.4]},
{b:1,c:[4.3,16.9,12,23.5]},
{b:1,c:[12.3,-6,16,-6,16.6,-5,18,-4,17.5,-1,18.5,2.2,18.6,4.2,21,4.2,27.4,5,30.9,3.5,29.5,-1.5,30.8,-8.3]},
{b:1,c:[14.5,12.9,15,9,16,7.5,19,9,22,11,23.5,8.7,27,5]},
{b:1,c:[33.2,8.5,35,5,40,4,42,4,44,5,47,8,43,11]},
{b:1,c:[34,4,35,1,34,-1,30.8,-1,29.5,-1.5]},
{b:1,c:[34,-1,37.5,-3.5,39.5,-4.6]},
{b:1,c:[-17,21,-12,21,-9,27.3]},
{b:1,c:[-1.8,43.4,3.2,42.4]},
{b:1,c:[2.5,51.1,6,50,8,49,7.6,47.6,6,46.2,7,44]},
{b:1,c:[8.5,53.8,8,50,9.5,47.5,13,47.5,17,48,19,48.5,22.6,49.1,24,50.5,23.6,51.5,23.8,54]},
{b:1,c:[14.2,54,14.8,51,12,50.3,13,48.6]},
{b:1,c:[23.6,51.5,31.5,52.1,35,52.2,40,49.6,38.2,47.1]},
{b:1,c:[28,56,31.5,55.7,32,53,31.5,52.1]},
{b:1,c:[21.1,56.9,28,56,28,59.5]},
{b:1,c:[22,47.8,22.6,49.1]},
{b:1,c:[28.2,46.4,30,46.5,29.7,45.3]},
{c:[34.9,29.4,36.1,29.2,37,31.5,39.1,32.2,40.4,31.9,42,31.1,44.7,29.2,46.6,29.1,47.5,29,48.4,28.5,49.6,26.9,50.1,25.9,50.8,24.8,51.6,24.2,52,23,55,22.7,55.7,22,55,20,52,19,49,18.6,48.2,18.2,47.5,17.1,46.4,17.2,45.2,17.4,43.9,17.3,43.4,17.3,42.8,16.6,42.5,16.5,40,20,39,21.5,37,24.5,35.7,27.5],g:'#559c5b',f:'#bc5e47'},
{c:[39,32.2,38.8,33.4,41,34.4,41.2,35.8,42.4,37.2,44.3,37.2,45.4,35.9,46.1,35.1,45.4,34,46.1,33,47.3,32.5,47.8,31.7,47.7,30.9,48,30.5,48.6,29.9,47.9,29.9,47.5,29,46.6,29.1,44.7,29.2,42,31.1,40.4,31.9],g:'#a4d093',f:'#a6453d'},
{c:[51.6,24.2,54,24.1,55.5,25.5,56.1,26,56.4,24.9,55.8,24.3,55.9,23.5,55.2,22.7,52,23],g:'#80ba75',f:'#f0cfa0'},
{c:[50.8,24.8,51.6,25.2,51.2,26.1,50.75,25.5],f:'#f4dcb4'},
{c:[25,31.6,29,30.9,31.1,31.6,32.3,31.3,34.2,31.3,34.9,29.5,34.4,28,33.6,27.9,32.4,29.9,33.9,27,35.6,23.9,36.9,22,31.4,22,25,22],g:'#bcdfa7',f:'#f4e2c4'},
{c:[36.4,14.4,37,17.1,38.4,18,39.3,15.9,40.5,14.9,41.7,13.9,43.1,12.7,42.4,12.5,40.9,14.1,39.3,14.5,37.9,14.9,37,14.3],g:'#badda4'},
{c:[-8.7,27.7,-8.7,28.8,-5.2,29.9,-3.6,31.3,-1.7,32.2,-1.2,32.7,-1.8,34.6,-2.2,35.2,0,35.9,2,36.6,5,36.8,8.4,36.9,8.4,35.5,8.1,34.6,7.5,34,7.6,33.3,9,32.1,9.5,30.3,9.9,29,9.7,26.5,9.3,26.1,10.3,24.4,11.6,24.1,12,23.5,7.5,20.9,5.7,19.6,4.3,19.2,3.2,19.1,3.2,19.8,1.8,20.6,-1.6,22.8,-4.9,25,-6.5,26.3,-8.7,27.4],g:'#a1ce90',f:'#e8b47a'},
{c:[-12.2,14.6,-11.5,15.4,-10.7,15.1,-9.7,15.3,-5.5,15.5,-5.3,16.2,-6,20.6,-4.9,25,-1.6,22.8,1.8,20.6,3.2,19.8,3.2,19.1,4.3,19.2,4.3,16.9,3.6,15.6,1.3,15.3,0.4,14.9,-0.3,14.9,-2,14.6,-3,13.6,-4.3,13.2,-4.8,12,-5.4,10.4,-5.8,10.2,-6.9,10.2,-7.6,10.1,-8.3,11,-8.4,12,-9.3,12.3,-10.5,11.9,-11.4,12.4,-11.7,13.3],g:'#b2d89d'},
{c:[2.7,6.3,2.7,9.5,3.6,10.3,3.6,11.7,4.1,13.5,5,13.9,6.8,13.1,8.1,13.3,9,12.8,10.1,13.3,12.3,13.1,13.6,13.7,14.5,12.9,14.9,12.2,13.9,10.4,13.3,10,12.9,9.4,12.3,8.6,11.7,6.9,11.1,6.6,10.5,7.1,9.5,6.5,8.8,5.5,8.5,4.8,7.1,4.4,6,4.3,5,5.6,4.3,6.3],g:'#a9d397',f:'#ebbe86'},
{c:[-3.2,5.1,-2.8,7.9,-2.6,8.2,-2.8,11,-0.1,11.1,0.5,10.9,0.4,8.5,0.7,8.3,0.5,7.4,1.1,6.2,-0.5,5.3,-1.9,4.7],g:'#b8dba2'},
{c:[-11.4,6.9,-10.8,7.6,-10.2,8.4,-9.7,8.5,-9.4,7.4,-8.8,7.7,-8.4,7.7,-8.5,6.3,-7.6,5.7,-7.5,4.4,-9,4.9,-10,5.8],f:'#e4995a'},
{c:[22,-13,22,-16,23.5,-17.5,25.3,-17.8,28,-16.5,30.4,-15.7,33.2,-14,32.9,-13,33.5,-10.5,31,-8.7,28.5,-8.3,28.9,-10,28.5,-11,29.8,-12.2,29.5,-13.3,27.2,-11.9,24,-10.9,24,-13],g:'#aed69a'},
{c:[25.3,-17.8,27,-20.5,29.4,-22.2,31.3,-22.4,32.8,-20,33,-17,30.4,-15.7,28,-16.5],g:'#b5da9f'},
{c:[20,-22,20,-24.8,20.8,-26.8,22.8,-25.6,25.5,-25.7,27,-23.7,29.4,-22.2,27,-20.5,25.3,-17.8,23.5,-17.5,21,-18,21,-22],g:'#b5da9f'},
{c:[11.7,-17,14,-17.4,21,-18,21,-22,20,-22,20,-24.8,20,-28.4,17,-28.5,16.5,-28.6,15,-27,14.5,-23,13,-20],g:'#b2d89d'},
{c:[16.5,-28.6,18,-32,18.4,-34.2,20,-34.8,25,-34,28,-32.8,30,-31,31.5,-29,32.9,-26.8,31.9,-25.9,31.3,-22.4,29.4,-22.2,27,-23.7,25.5,-25.7,22.8,-25.6,20.8,-26.8,20,-24.8,20,-28.4,17,-28.5],g:'#a9d396'},
{c:[46.5,48.5,47,50,48.5,50,50.5,51.5,55,50.7,61,50.8,60.5,52,61.5,53.9,65,54.6,69,55.4,73,54,76,54.3,78,52.5,80,51,83,51,87,49,85,47,83,47,80.5,45,80,42.5,76,43,74,43.2,71,42.3,68.5,41,66,42.9,61,44.4,58.5,45.5,56,45,55,41.3,53,41.5,52.7,42.5,51.2,44.5,51.5,45.5,53,46.8,51,47,49.2,46.4],g:'#b6dba0',f:'#ecc48e'},
{c:[56,45,58.5,45.5,61,44.4,66,42.9,68.5,41,71,42.3,73,40.8,71,40.2,70.5,41,69,40.3,68,38.5,67.4,37.3,66,37.4,65,38.3,62,40.1,61,41.2,58.5,42.7,56,41.3],g:'#2f7c40'},
{c:[69.5,39.8,73,39.4,74.8,40.5,76.5,40.4,78,41.2,80.2,42.1,79,42.8,76,43,74,43.2,71,42.3,73,40.8,71,40.2],g:'#b5da9f'},
{c:[87.8,49.2,92,50.7,97.7,52,98.2,50.5,102,51.3,106.5,50.3,111,49.4,116.5,49.9,116,48,119.5,47,118,46,112,45,111,43,105,41.8,97,42.7,95.3,44.2,91,45.2,90.6,46.9],f:'#efcf9d'},
{c:[26,40.6,26.5,41.7,28,42,31.5,41.2,35,42,38,41,41.5,41.5,43.5,41.1,44.8,39.7,44.3,37.1,42.5,37.3,40,36.9,36.7,36.8,36,36,35.9,36.8,34,36.2,32.5,36.1,30.5,36.3,28.5,36.7,27.3,37.5,26.3,38.2,26.8,39.5],g:'#89bf7c'},
{c:[19,44.8,19.4,46.1,20.3,46.1,21.5,45.2,22.6,44.5,22.4,43.6,23,43.2,22.4,42.3,21.5,42.2,20.6,41.9,20,42.8,19.2,43.5,19.4,44],g:'#88bf7b'},
{c:[15.8,45.2,19,44.9,19.4,44,18.5,42.5,17.5,43,16,44.2],g:'#aed69a',f:'#f3dab0'},
{c:[20.3,46.1,22,47.8,24.9,47.8,26.6,48.2,28.2,46.4,28.6,45.2,29.7,45.1,28.6,43.7,25,43.7,22.4,43.9,21.5,45.2],g:'#b8dca2'},
{c:[22.4,44,25,43.7,28.6,43.7,28,42,26.5,41.7,24,41.6,22.9,41.3,22.4,42.3,23,43.2],g:'#b8dca2'},
{c:[126.1,34.6,126.5,37.7,128.3,38.6,129.4,36.8,129.4,35.2,127.5,34.5],g:'#519a5a'},
{c:[102.2,22.4,103.5,22.7,106.7,22.8,108,21.5,106.7,20.7,105.7,19,107.6,16.3,109.2,13.5,109.2,11.5,107.3,10.4,106.5,9.5,105,8.6,104.8,10.2,106,11.5,107.5,12.3,107.5,14.5,106.5,16,105,18,103.9,19.3,104.5,20.4,103.3,20.8],g:'#6fb06a'},
{c:[100.1,20.4,101.2,21.4,102.2,22.4,103.3,20.8,104.5,20.4,103.9,19.3,105,18,106.5,16,107.5,14.5,106,13.9,105.2,14.3,105.5,15.5,104.7,16.4,103,17.9,101.3,17.6,100.5,19.5],g:'#b8dca2'},
{c:[102.6,12.2,102.3,13.4,103,14.2,105.2,14.3,106,13.9,107.5,14.5,107.5,12.3,106,11.5,104.8,10.2,103.5,10.6],g:'#acd599'},
{c:[97.4,18.4,98.3,19.7,100.1,20.4,100.5,19.5,101.3,17.6,103,17.9,104.7,16.4,105.5,15.5,105.2,14.3,103,14.2,102.3,13.4,102.6,12.2,101,12.7,100,13.4,99.2,10.5,99.9,9.2,100.5,7.2,102,6.2,101,5.7,100.3,6.5,98.5,8,98.7,10.5,99.3,13.3,98.4,15,97.5,16.9],g:'#b5da9f'},
{c:[100.3,6.5,101,5.7,102,6.2,103.4,4.9,103.5,2.5,104.2,1.4,103.5,1.3,101.3,2.9,100.3,5.2],g:'#b2d89d',f:'#f2d6a8'},
{c:[92.2,21.2,92.7,22,93.2,22.3,93.3,24,94.6,25.2,95.2,26.7,96.7,27.6,97.3,28.3,98.4,27.5,98.7,25.9,97.7,24.5,98.9,24.1,98.5,22.9,99.5,22,101.2,21.4,100.1,20.4,98.3,19.7,97.4,18.4,97.5,16.9,98.4,15,99.3,13.3,98.7,10.5,98.5,13,97.7,16.5,95.4,15.7,94.2,16,94.6,18.3,93.5,19.4],f:'#f0cf9f'},
{c:[88.1,22.1,88.6,24.3,88,24.6,89.1,26.2,89.8,26,90.4,25.2,92.4,25,91.8,24.2,92.4,22.8,92.2,21.2,91.7,22.5,90.5,22.8,89,21.9],f:'#e9b67e'},
{c:[80,28.8,81.4,30.2,83.3,29.5,85.8,28.2,88.1,27.9,88.2,26.4,85,26.6,83.3,27.3,81,28.4],g:'#b5da9f'},
{c:[79.8,8,80,6,81.8,7,81.2,8.8,80.2,9.8],g:'#aed69a'},
{c:[109,1.2,109.6,2,111,1.6,112.9,3.1,114,4.4,115.4,5,116.8,7,117.7,6.1,119.2,5.4,117.9,4.1,118,2.3,119,0.9,117.5,0.1,116.5,-1.7,116.4,-3.8,114.6,-3.6,112,-3.4,110.3,-2.9,110,-1.2],g:'#96c787',f:'#f2d6a8'},
{c:[109.6,2,111,1.6,112.5,1.4,114.6,4,115.5,4.9,116.8,7,117.7,6.1,119.2,5.4,117.9,4.1,115.9,4.3,114.6,1.4,112.9,1.5,111.8,0.9,110.3,0.8,109.6,1.5],g:'#b2d89d',f:'#f2d6a8'},
{c:[95.3,5.6,97.5,5.2,98.7,3.7,100.4,2.2,101.5,1.7,103.4,0.4,103.8,-1,104.9,-2.3,106.1,-3.1,105.9,-5.9,104.7,-5.9,103.9,-5,102.3,-4,100.9,-2.2,100.1,-0.6,99,0.4,98.6,1.8,97.2,3.3,95.3,4.9],g:'#96c787',f:'#f2d6a8'},
{c:[105.2,-6.8,106,-5.9,108.3,-6.3,110.5,-6.9,112.6,-6.9,114.5,-7.8,114.5,-8.7,112,-8.3,108.5,-7.8,106.4,-7.4],g:'#96c787',f:'#f2d6a8'},
{c:[118.8,-2.8,119.5,-0.7,120.1,0.6,122.7,0.4,124.9,1.6,124.4,0.4,121.1,-0.7,122.9,-1.4,122.3,-3.2,123.2,-4.7,122,-5.4,121.3,-4.6,120.9,-2.6,120.3,-2.9,120.4,-5.5,119.4,-5.4,119.6,-3.5],g:'#96c787',f:'#f2d6a8'},
{c:[114.6,-8.8,116,-8.3,119,-8.2,122,-8.2,123,-8.3,122.8,-8.7,119.8,-8.8,117,-9.1,115.2,-8.8],g:'#96c787',f:'#f2d6a8'},
{c:[123.6,-10.3,125,-9.1,127.3,-8.4,126.9,-8.8,124.9,-9.9],g:'#96c787',f:'#f2d6a8'},
{c:[127.5,1.9,128.7,1.1,128,0,128,-0.9,127.4,0.5],g:'#96c787',f:'#f2d6a8'},
{c:[128,-3.3,130.8,-3.5,130.5,-3.9,128.2,-3.6],g:'#96c787',f:'#f2d6a8'},
{c:[131,-1,132.3,-0.4,134.1,-0.9,134.5,-2.8,135.5,-3.4,137.4,-1.5,141,-2.6,141,-9.1,139,-8.1,137.9,-8.4,138.1,-7.6,137.7,-5.4,135.2,-4.5,133.7,-3.5,132.8,-4.1,132,-2.8,133.7,-2.2,132.2,-2.2,131.8,-1.6],g:'#96c787',f:'#f2d6a8'},
{c:[120.6,18.5,122.2,18.5,122.5,17,121.6,15.9,122,14,124,13,123.5,13.9,121.9,13.6,120.6,14,120.6,15.9,120.3,16.3],g:'#9ccb8c'},
{c:[122,7,123.4,7.8,124,7.3,125.4,7.1,125.7,6.2,126.6,7.2,126.2,9.3,125.4,9.8,123.7,8.3,122.2,8],g:'#9ccb8c'},
{c:[124.2,12.5,125.6,12.3,125.2,10.2,124.7,10.1],g:'#9ccb8c'},
{c:[121.9,11.9,123.1,11.2,123.4,9.2,122.4,9.8],g:'#9ccb8c'},
{c:[117.2,8.4,119.5,10.9,119.3,11.3,117.5,9],g:'#9ccb8c'},
{c:[120.4,13.5,121.5,13,121.2,12.3,120.4,13],g:'#9ccb8c'},
{c:[172.7,-34.4,174.3,-35.3,175.1,-36.8,175.9,-37.5,177.4,-37.9,178.5,-37.7,177.9,-39.2,177,-39.8,176,-41.3,175.2,-41.7,174.7,-41.3,175.2,-40.5,174.5,-39.8,173.8,-39.2,174.6,-38.8,174.7,-37.4,174.2,-36.7,173.1,-35.2],g:'#b5da9f'},
{c:[172.6,-40.5,173.7,-40.9,174.3,-41.3,174.2,-42,173.2,-43,172.7,-43.8,171.2,-44.3,170.8,-45.4,169.3,-46.6,168.3,-46.6,166.7,-46.2,166.6,-45.3,167.9,-44.2,170.6,-43,171.5,-41.8,172,-40.8],g:'#b5da9f'}
];
function add(g,d,fill,stroke){var p=document.createElementNS(NS,'path');p.setAttribute('d',d);p.setAttribute('fill',fill);p.setAttribute('stroke',stroke);p.setAttribute('stroke-width','0.5');p.setAttribute('stroke-linejoin','round');p.setAttribute('vector-effect','non-scaling-stroke');g.appendChild(p);}
function draw(id,key,bounds){var g=document.getElementById(id);if(!g)return;B=bounds;
F.forEach(function(ft){var fill,stroke;
if(ft.b){add(g,P(ft.c,0,true),'none','#cbcbcb');return;}
if(ft.s){fill=SEA;stroke='#cdcdcd';}
else if(ft[key]){fill=ft[key];stroke='#9a9a9a';}
else{fill=LAND;stroke='#cdcdcd';}
add(g,P(ft.c),fill,stroke);
if(ft.w&&key==='g'){add(g,P(ft.c,360),fill,stroke);}
});}
/* bounds: [lonMin, lonMax, latMin, latMax] kept just outside each map frame */
draw('mg','g',[-70,241,-56,62]);
draw('mf','f',[-30,156,-18,62]);
})();
</script>
</body></html>
